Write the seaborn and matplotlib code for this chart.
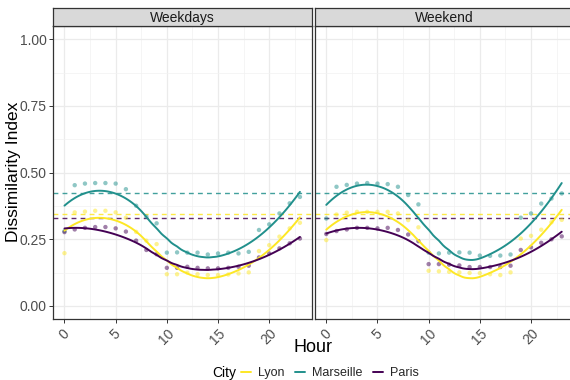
import numpy as np
import pandas as pd
import matplotlib
matplotlib.use("Agg")
import matplotlib.pyplot as plt
from matplotlib.lines import Line2D
import seaborn as sns

# --- data ---
hours = list(range(24))
cities = ["Lyon", "Marseille", "Paris"]
panels = ["Weekdays", "Weekend"]

lyon_weekdays = [0.198, 0.351, 0.354, 0.357, 0.357, 0.351, 0.331, 0.278, 0.245, 0.232, 0.119, 0.119,
                 0.125, 0.119, 0.116, 0.116, 0.118, 0.122, 0.126, 0.206, 0.228, 0.260, 0.291, 0.312]
marseille_weekdays = [0.281, 0.453, 0.459, 0.461, 0.461, 0.459, 0.438, 0.376, 0.335, 0.310, 0.200, 0.201,
                      0.200, 0.200, 0.193, 0.197, 0.200, 0.197, 0.203, 0.285, 0.306, 0.347, 0.385, 0.409]
paris_weekdays = [0.277, 0.287, 0.293, 0.296, 0.296, 0.291, 0.279, 0.245, 0.210, 0.194, 0.143, 0.143,
                  0.147, 0.143, 0.141, 0.141, 0.143, 0.147, 0.151, 0.182, 0.197, 0.216, 0.235, 0.253]

lyon_weekend = [0.247, 0.343, 0.350, 0.353, 0.353, 0.353, 0.353, 0.347, 0.322, 0.295, 0.132, 0.130,
                0.128, 0.126, 0.124, 0.123, 0.119, 0.116, 0.126, 0.253, 0.263, 0.286, 0.314, 0.323]
marseille_weekend = [0.328, 0.447, 0.454, 0.459, 0.461, 0.459, 0.457, 0.447, 0.416, 0.381, 0.200, 0.197,
                     0.200, 0.201, 0.200, 0.189, 0.188, 0.189, 0.193, 0.331, 0.347, 0.384, 0.403, 0.422]
paris_weekend = [0.270, 0.281, 0.287, 0.293, 0.293, 0.291, 0.293, 0.285, 0.268, 0.243, 0.157, 0.157,
                 0.155, 0.152, 0.146, 0.146, 0.146, 0.146, 0.151, 0.210, 0.220, 0.237, 0.250, 0.261]

# dashed reference levels (same in both panels)
ref_levels = {"Lyon": 0.345, "Marseille": 0.422, "Paris": 0.331}

palette = {"Lyon": "#FDE725", "Marseille": "#21908C", "Paris": "#440154"}

series = {
    ("Weekdays", "Lyon"): lyon_weekdays,
    ("Weekdays", "Marseille"): marseille_weekdays,
    ("Weekdays", "Paris"): paris_weekdays,
    ("Weekend", "Lyon"): lyon_weekend,
    ("Weekend", "Marseille"): marseille_weekend,
    ("Weekend", "Paris"): paris_weekend,
}

rows = []
for (panel, city), vals in series.items():
    for h, v in zip(hours, vals):
        rows.append({"Panel": panel, "City": city, "Hour": h, "Value": v})
df = pd.DataFrame(rows)


def loess(x, y, grid, span=0.75):
    """local quadratic fit with tricube weights (like R's loess default)"""
    x = np.asarray(x, float)
    y = np.asarray(y, float)
    q = int(np.floor(len(x) * span))
    out = []
    for g in grid:
        d = np.abs(x - g)
        h = np.sort(d)[q - 1]
        w = np.clip(1 - (d / h) ** 3, 0, None) ** 3
        X = np.column_stack([np.ones_like(x), x - g, (x - g) ** 2])
        XtW = X.T * w
        beta = np.linalg.solve(XtW @ X, XtW @ y)
        out.append(beta[0])
    return np.array(out)


grid = np.linspace(0, 23, 120)
smooth_rows = []
for (panel, city), vals in series.items():
    fit = loess(hours, vals, grid)
    for g, f in zip(grid, fit):
        smooth_rows.append({"Panel": panel, "City": city, "Hour": g, "Value": f})
smooth_df = pd.DataFrame(smooth_rows)

# --- style ---
sns.set_theme(style="white")
plt.rcParams['font.family'] = ['Liberation Sans', 'DejaVu Sans']

W, H = 570, 380
fig = plt.figure(figsize=(W / 100, H / 100), dpi=100)


def px_axes(x0, y0, x1, y1):
    return fig.add_axes([x0 / W, 1 - y1 / H, (x1 - x0) / W, (y1 - y0) / H])


panel_boxes = {"Weekdays": (52.7, 311.7), "Weekend": (314.5, 573.5)}
top, bottom, strip_top = 26, 319.3, 8

for i, panel in enumerate(panels):
    x0, x1 = panel_boxes[panel]
    ax = px_axes(x0, top, x1, bottom)
    sub = df[df["Panel"] == panel]
    sm = smooth_df[smooth_df["Panel"] == panel]

    for city in cities:
        ax.axhline(ref_levels[city], color=palette[city], lw=1.0, ls=(0, (3.5, 3)),
                   alpha=0.85, zorder=2)

    sns.scatterplot(data=sub, x="Hour", y="Value", hue="City", palette=palette,
                    hue_order=cities, s=10, alpha=0.5, edgecolor="none",
                    legend=False, ax=ax, zorder=3)
    sns.lineplot(data=sm, x="Hour", y="Value", hue="City", palette=palette,
                 hue_order=cities, lw=1.4, legend=False, ax=ax, zorder=4)

    ax.set_xlim(-1.15, 24.15)
    ax.set_ylim(-0.05, 1.05)
    ax.set_xticks([0, 5, 10, 15, 20])
    ax.set_xticks([2.5, 7.5, 12.5, 17.5, 22.5], minor=True)
    ax.set_yticks([0, 0.25, 0.5, 0.75, 1.0])
    ax.set_yticks([0.125, 0.375, 0.625, 0.875], minor=True)
    ax.grid(True, which="major", color="#EBEBEB", lw=0.9)
    ax.grid(True, which="minor", color="#F2F2F2", lw=0.5)
    ax.set_axisbelow(True)
    ax.set_xlabel("")
    ax.set_ylabel("")
    ax.set_xticklabels(["0", "5", "10", "15", "20"], rotation=45, ha="center", va="top",
                       fontsize=10, color="#4D4D4D")
    if i == 0:
        ax.set_yticklabels(["0.00", "0.25", "0.50", "0.75", "1.00"], fontsize=10, color="#4D4D4D")
        ax.tick_params(axis="y", which="major", length=3, width=0.7, color="#333333",
                       direction="out", pad=1.5, left=True)
    else:
        ax.tick_params(axis="y", which="both", left=False, labelleft=False)
    ax.tick_params(axis="x", which="major", length=3, width=0.7, color="#333333",
                   direction="out", pad=2, bottom=True)
    ax.tick_params(which="minor", length=0)
    for sp in ax.spines.values():
        sp.set_color("#333333")
        sp.set_linewidth(0.9)

    # facet strip
    sax = px_axes(x0, strip_top, x1, top)
    sax.set_facecolor("#D9D9D9")
    sax.set_xticks([])
    sax.set_yticks([])
    for sp in sax.spines.values():
        sp.set_color("#333333")
        sp.set_linewidth(0.9)
    sax.text(0.5, 0.45, panel, ha="center", va="center", fontsize=10,
             color="#1A1A1A", transform=sax.transAxes)

fig.text(14 / W, 1 - 172 / H, "Dissimilarity Index", rotation=90, ha="center",
         va="center", fontsize=12.5, color="black")
fig.text(313 / W, 1 - 347 / H, "Hour", ha="center", va="center", fontsize=13,
         color="black")

handles = [Line2D([0], [0], color=palette[c], lw=1.4) for c in cities]
fig.legend(handles, cities, loc="center", bbox_to_anchor=(330 / W, 1 - 373 / H),
           ncol=3, frameon=False, fontsize=9, handlelength=0.8, handletextpad=0.6,
           columnspacing=0.8, borderpad=0)
fig.text(236 / W, 1 - 373 / H, "City", ha="right", va="center", fontsize=10, color="black")

plt.savefig("out.png", dpi=100)
